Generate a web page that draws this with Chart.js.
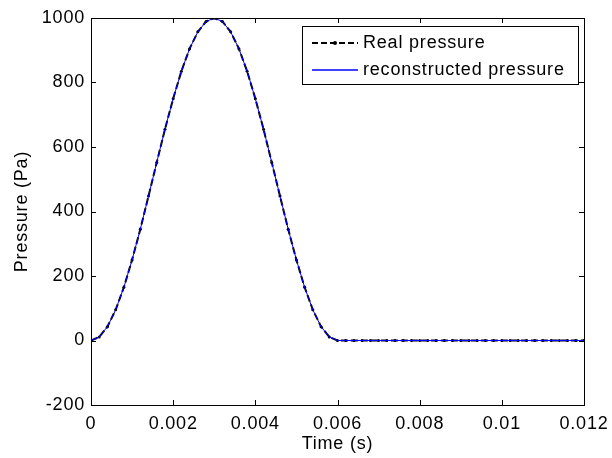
<!DOCTYPE html>
<html>
<head>
<meta charset="utf-8">
<script src="https://cdn.jsdelivr.net/npm/chart.js@4.4.1/dist/chart.umd.min.js"></script>
<style>
  html, body { margin: 0; padding: 0; background: #fff; }
  #wrap { width: 612px; height: 458px; }
</style>
</head>
<body>
<div id="wrap"><canvas id="grafica"></canvas></div>
<script>
// datos
const tiempo = [
  0, 0.0002, 0.0004, 0.0006, 0.0008, 0.001, 0.0012, 0.0014, 0.0016, 0.0018,
  0.002, 0.0022, 0.0024, 0.0026, 0.0028, 0.003, 0.0032, 0.0034, 0.0036, 0.0038,
  0.004, 0.0042, 0.0044, 0.0046, 0.0048, 0.005, 0.0052, 0.0054, 0.0056, 0.0058,
  0.006, 0.0062, 0.0064, 0.0066, 0.0068, 0.007, 0.0072, 0.0074, 0.0076, 0.0078,
  0.008, 0.0082, 0.0084, 0.0086, 0.0088, 0.009, 0.0092, 0.0094, 0.0096, 0.0098,
  0.01, 0.0102, 0.0104, 0.0106, 0.0108, 0.011, 0.0112, 0.0114, 0.0116, 0.0118,
  0.012
];
const presionReal = [
  0, 11, 43, 95, 165, 250, 345, 448, 552, 655,
  750, 835, 905, 957, 989, 1000, 989, 957, 905, 835,
  750, 655, 552, 448, 345, 250, 165, 95, 43, 11,
  0, 0, 0, 0, 0, 0, 0, 0, 0, 0,
  0, 0, 0, 0, 0, 0, 0, 0, 0, 0,
  0, 0, 0, 0, 0, 0, 0, 0, 0, 0,
  0
];
const presionReconstruida = [
  0, 11, 43, 95, 165, 250, 345, 448, 552, 655,
  750, 835, 905, 957, 989, 1000, 989, 957, 905, 835,
  750, 655, 552, 448, 345, 250, 165, 95, 43, 11,
  0, 0, 0, 0, 0, 0, 0, 0, 0, 0,
  0, 0, 0, 0, 0, 0, 0, 0, 0, 0,
  0, 0, 0, 0, 0, 0, 0, 0, 0, 0,
  0
];
const nombresSeries = ['Real pressure', 'reconstructed pressure'];
const ticksX = [0, 0.002, 0.004, 0.006, 0.008, 0.01, 0.012];
const ticksY = [-200, 0, 200, 400, 600, 800, 1000];

const fuente = '"Liberation Sans", Arial, sans-serif';
Chart.defaults.font.family = fuente;
Chart.defaults.font.size = 18;
Chart.defaults.color = '#000';

const puntos = (ys) => tiempo.map((t, i) => ({ x: t, y: ys[i] }));

// letras un poco mas abiertas, como en matlab
const espaciado = {
  id: 'espaciado',
  beforeUpdate(chart) { chart.ctx.letterSpacing = '0.8px'; },
  beforeDraw(chart) { chart.ctx.letterSpacing = '0.8px'; }
};

// caja estilo matlab, ticks hacia adentro y leyenda
const cajaMatlab = {
  id: 'cajaMatlab',
  afterDraw(chart) {
    const ctx = chart.ctx;
    const a = chart.chartArea;
    const sx = chart.scales.x, sy = chart.scales.y;
    ctx.save();
    ctx.strokeStyle = '#000';
    ctx.lineWidth = 1;
    ctx.strokeRect(a.left + 0.5, a.top + 0.5, a.right - a.left, a.bottom - a.top);
    ctx.beginPath();
    ticksX.forEach(v => {
      const px = Math.round(sx.getPixelForValue(v)) + 0.5;
      ctx.moveTo(px, a.bottom); ctx.lineTo(px, a.bottom - 5);
      ctx.moveTo(px, a.top); ctx.lineTo(px, a.top + 5);
    });
    ticksY.forEach(v => {
      const py = Math.round(sy.getPixelForValue(v)) + 0.5;
      ctx.moveTo(a.left, py); ctx.lineTo(a.left + 5, py);
      ctx.moveTo(a.right, py); ctx.lineTo(a.right - 5, py);
    });
    ctx.stroke();

    // leyenda
    const lx = 302, ly = 26, lw = 276, lh = 58;
    ctx.fillStyle = '#fff';
    ctx.fillRect(lx, ly, lw, lh);
    ctx.strokeRect(lx + 0.5, ly + 0.5, lw, lh);
    ctx.font = '18px ' + fuente;
    ctx.textBaseline = 'middle';
    ctx.fillStyle = '#000';
    // fila 1
    ctx.strokeStyle = '#000';
    ctx.lineWidth = 2;
    ctx.setLineDash([6, 3]);
    ctx.beginPath(); ctx.moveTo(312, 43); ctx.lineTo(358, 43); ctx.stroke();
    ctx.setLineDash([]);
    ctx.beginPath(); ctx.arc(335, 43, 2, 0, Math.PI * 2); ctx.fill();
    ctx.fillText(nombresSeries[0], 363, 43);
    // fila 2
    ctx.strokeStyle = '#0000ff';
    ctx.lineWidth = 1.5;
    ctx.beginPath(); ctx.moveTo(312, 70); ctx.lineTo(358, 70); ctx.stroke();
    ctx.fillText(nombresSeries[1], 363, 70);
    ctx.restore();
  }
};

const grafica = new Chart(document.getElementById('grafica'), {
  type: 'line',
  data: {
    datasets: [{
      label: nombresSeries[0],
      data: puntos(presionReal),
      borderColor: '#000',
      backgroundColor: '#000',
      borderWidth: 2,
      borderDash: [7, 3],
      pointRadius: 1.5,
      pointBorderWidth: 0,
      tension: 0,
      order: 2
    }, {
      label: nombresSeries[1],
      data: puntos(presionReconstruida),
      borderColor: '#0000ff',
      backgroundColor: '#0000ff',
      borderWidth: 1,
      pointRadius: 0,
      tension: 0,
      order: 1
    }]
  },
  options: {
    responsive: true,
    maintainAspectRatio: false,
    animation: false,
    layout: { padding: { top: 18, right: 28, bottom: 0, left: 0 } },
    plugins: {
      legend: { display: false },
      tooltip: { enabled: false }
    },
    scales: {
      x: {
        type: 'linear',
        min: 0,
        max: 0.012,
        afterBuildTicks: (s) => { s.ticks = ticksX.map(v => ({ value: v })); },
        afterFit: (s) => { s.height = 53; s.paddingLeft = 0; s.paddingRight = 0; },
        ticks: {
          padding: 8,
          maxRotation: 0,
          callback: (v) => parseFloat(Number(v).toFixed(4)).toString()
        },
        grid: { display: false, drawTicks: false },
        border: { display: false },
        title: { display: true, text: 'Time (s)', padding: { top: 1, bottom: 3 } }
      },
      y: {
        min: -200,
        max: 1000,
        afterBuildTicks: (s) => { s.ticks = ticksY.map(v => ({ value: v })); },
        afterFit: (s) => { s.width = 91; s.paddingTop = 0; s.paddingBottom = 0; },
        ticks: { padding: 6, callback: (v) => String(v) },
        grid: { display: false, drawTicks: false },
        border: { display: false },
        title: { display: true, text: 'Pressure (Pa)', padding: { top: 11, bottom: 0 } }
      }
    }
  },
  plugins: [espaciado, cajaMatlab]
});
</script>
</body>
</html>
